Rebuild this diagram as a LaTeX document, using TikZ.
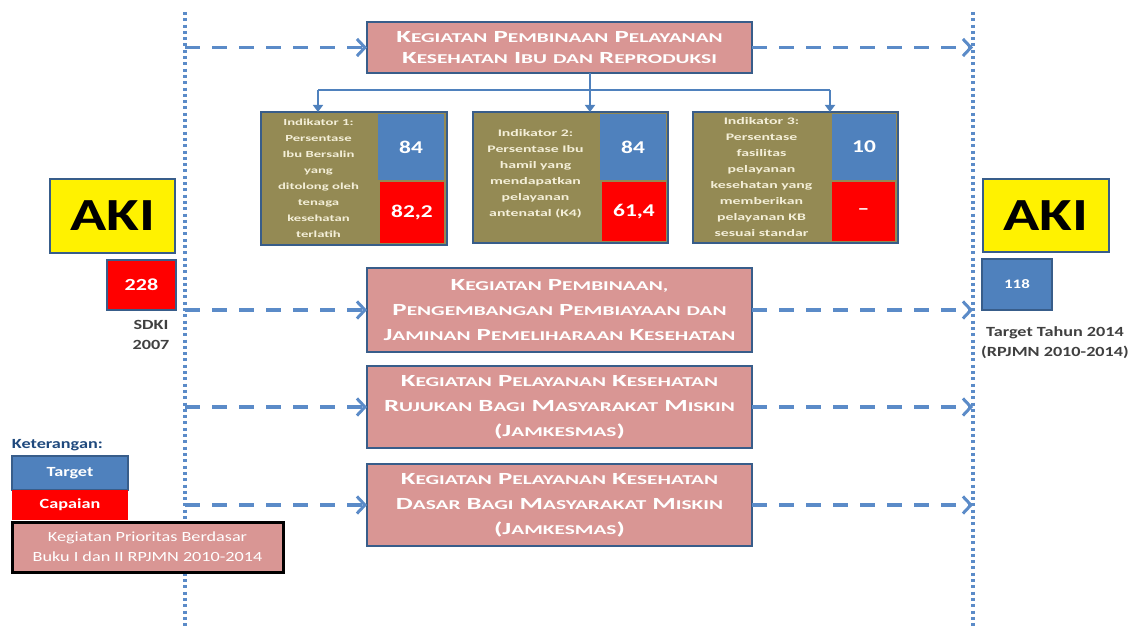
\documentclass[tikz,border=0pt]{standalone}
\usepackage{fontspec}
\setmainfont{Carlito}[FakeStretch=1.3]
\newfontfamily\widefont{Carlito}[FakeStretch=1.58]
\usetikzlibrary{arrows.meta}

\definecolor{bordblue}{HTML}{385D8A}
\definecolor{pinkfill}{HTML}{D99694}
\definecolor{tgtblue}{HTML}{4F81BD}
\definecolor{arrowblue}{HTML}{5B8BC8}
\definecolor{olivefill}{HTML}{948A54}
\definecolor{capred}{HTML}{FF0000}
\definecolor{creamtext}{HTML}{F4EFD8}
\definecolor{legendtext}{HTML}{1F497D}
\definecolor{graytext}{HTML}{404040}

% small-caps look: first letter full size, remainder as smaller capitals
\newcommand\capsz{\fontsize{17}{25}\selectfont}
\newcommand\smsz{\fontsize{13.5}{25}\selectfont}
\def\skx#1#2\relax{{\capsz #1}{\smsz\MakeUppercase{#2}}}
\newcommand\sk[1]{\skx#1\relax}
\newcommand\lo[1]{{\smsz\MakeUppercase{#1}}}

\begin{document}
\begin{tikzpicture}[x=1pt,y=-1pt,
  every node/.style={inner sep=0pt,outer sep=0pt},
  pinkbox/.style={draw=bordblue,line width=2pt,fill=pinkfill,minimum width=385pt,
    anchor=north west,align=center,text=white,font=\widefont\bfseries\fontsize{17}{25}\selectfont},
  indframe/.style={draw=bordblue,line width=1.6pt,fill=olivefill,anchor=north west},
  indtext/.style={align=center,text=creamtext,font=\widefont\bfseries\fontsize{10}{16}\selectfont},
  tgtcell/.style={fill=tgtblue,anchor=north west,text=white,font=\bfseries\fontsize{18}{20}\selectfont},
  capcell/.style={fill=capred,anchor=north west,text=white,font=\bfseries\fontsize{18}{20}\selectfont},
  akibox/.style={draw=bordblue,line width=2pt,fill=yellow,anchor=north west,
    font=\bfseries\fontsize{46}{50}\selectfont},
  valbox/.style={draw=bordblue,line width=2pt,anchor=north west,text=white,
    font=\bfseries\fontsize{17}{20}\selectfont},
  note/.style={align=center,text=graytext,font=\bfseries\fontsize{14}{20}\selectfont},
  guide/.style={draw=arrowblue,line width=3.6pt,dash pattern=on 3pt off 3.3pt},
  flow/.style={draw=arrowblue,line width=3.4pt,dash pattern=on 15pt off 12pt,
    -{Straight Barb[length=8pt,width=17pt,line width=3pt]}},
  tree/.style={draw=tgtblue,line width=2.6pt},
  treearrow/.style={tree,-{Triangle[length=7pt,width=10pt]}}]

\useasboundingbox (0,0) rectangle (1138,628);

% guide lines
\coordinate (Ltop) at (185,12);
\coordinate (Lbot) at (185,628);
\coordinate (Rtop) at (973,12);
\coordinate (Rbot) at (973,628);
\draw[guide] (Ltop) -- (Lbot);
\draw[guide] (Rtop) -- (Rbot);

% programme boxes
\node[pinkbox,minimum height=51pt,font=\widefont\bfseries\fontsize{17}{21}\selectfont] (k1) at (367,22)
  {\sk{Kegiatan} \sk{Pembinaan} \sk{Pelayanan}\\\sk{Kesehatan} \sk{Ibu} \lo{dan} \sk{Reproduksi}};
\node[pinkbox,minimum height=84pt] (k2) at (367,268)
  {\sk{Kegiatan} \sk{Pembinaan,}\\\sk{Pengembangan} \sk{Pembiayaan} \lo{dan}\\\sk{Jaminan} \sk{Pemeliharaan} \sk{Kesehatan}};
\node[pinkbox,minimum height=82pt] (k3) at (367,366)
  {\sk{Kegiatan} \sk{Pelayanan} \sk{Kesehatan}\\\sk{Rujukan} \sk{Bagi} \sk{Masyarakat} \sk{Miskin}\\{\capsz(J}{\smsz AMKESMAS}{\capsz)}};
\node[pinkbox,minimum height=82pt] (k4) at (367,464)
  {\sk{Kegiatan} \sk{Pelayanan} \sk{Kesehatan}\\\sk{Dasar} \sk{Bagi} \sk{Masyarakat} \sk{Miskin}\\{\capsz(J}{\smsz AMKESMAS}{\capsz)}};

% flow arrows between the guide lines and the boxes
\foreach \k in {k1,k2,k3,k4}{
  \draw[flow] (\k.west -| Ltop) -- (\k.west);
  \draw[flow] (\k.east) -- (\k.east -| Rtop);
}

% indicator boxes
\node[indframe,minimum width=186pt,minimum height=133pt] (i1) at (261,112) {};
\node[tgtcell,minimum width=66pt,minimum height=66pt] (t1) at (378,114) {84};
\node[capcell,minimum width=64pt,minimum height=61pt] (c1) at (380,182) {82,2};
\node[indtext,font=\widefont\bfseries\fontsize{9.3}{16}\selectfont] (x1) at (318.5,178.5)
  {Indikator 1:\\Persentase\\Ibu Bersalin\\yang\\ditolong oleh\\tenaga\\kesehatan\\terlatih};

\node[indframe,minimum width=195pt,minimum height=131pt] (i2) at (473,112) {};
\node[tgtcell,minimum width=66pt,minimum height=66pt] (t2) at (600,114) {84};
\node[capcell,minimum width=64pt,minimum height=59pt] (c2) at (602,182) {61,4};
\node[indtext] (x2) at (535.5,174)
  {Indikator 2:\\Persentase Ibu\\hamil yang\\mendapatkan\\pelayanan\\antenatal (K4)};

\node[indframe,minimum width=205pt,minimum height=131pt] (i3) at (693,112) {};
\node[tgtcell,minimum width=64pt,minimum height=66pt] (t3) at (832,114) {10};
\node[capcell,minimum width=63pt,minimum height=59pt] (c3) at (832,182) {--};
\node[indtext] (x3) at (761.5,177.5)
  {Indikator 3:\\Persentase\\fasilitas\\pelayanan\\kesehatan yang\\memberikan\\pelayanan KB\\sesuai standar};

% branching from the first programme to the indicators
\coordinate (hub) at (590,90);
\coordinate (b1) at (318,90);
\coordinate (b3) at (830,90);
\draw[tree] (k1.south -| hub) -- (hub);
\draw[tree] (b1) -- (b3);
\draw[treearrow] (b1) -- (b1 |- i1.north);
\draw[treearrow] (hub) -- (hub |- i2.north);
\draw[treearrow] (b3) -- (b3 |- i3.north);

% baseline value
\node[akibox,minimum width=125pt,minimum height=74pt] (akiL) at (50,179) {AKI};
\node[valbox,fill=capred,minimum width=69pt,minimum height=50pt] (vL) at (107,260) {228};
\node[note] (sL) at (151,335) {SDKI\\2007};

% target value
\node[akibox,minimum width=126pt,minimum height=73pt] (akiR) at (983,179) {AKI};
\node[valbox,fill=tgtblue,minimum width=70pt,minimum height=51pt,
  font=\bfseries\fontsize{13}{16}\selectfont] (vR) at (982,259) {118};
\node[note] (sR) at (1055,343) {Target Tahun 2014\\(RPJMN 2010-2014)};

% legend
\node[anchor=west,text=legendtext,font=\bfseries\fontsize{14}{16}\selectfont] (lg) at (12,445) {Keterangan:};
\node[draw=bordblue,line width=1.5pt,fill=tgtblue,anchor=north west,minimum width=116pt,minimum height=34pt,
  text=white,font=\bfseries\fontsize{14}{16}\selectfont] (lt) at (12,456) {Target};
\node[fill=capred,anchor=north west,minimum width=116pt,minimum height=30pt,
  text=white,font=\bfseries\fontsize{14}{16}\selectfont] (lc) at (12,490) {Capaian};
\node[draw=black,line width=3pt,fill=pinkfill,anchor=north west,minimum width=271pt,minimum height=50pt,
  align=center,text=white,font=\fontsize{14}{20}\selectfont] (lp) at (12,522)
  {Kegiatan Prioritas Berdasar\\Buku I dan II RPJMN 2010-2014};
\end{tikzpicture}
\end{document}
